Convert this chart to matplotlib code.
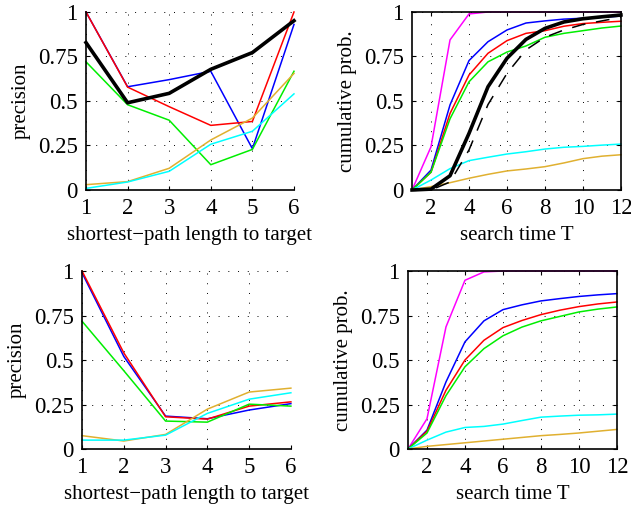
import matplotlib
matplotlib.use('Agg')
import matplotlib.pyplot as plt
import numpy as np

plt.rcParams['font.family'] = ['Liberation Serif', 'DejaVu Serif']
plt.rcParams['font.size'] = 15

# precision vs shortest-path length
hops = [1, 2, 3, 4, 5, 6]
tl_blue = [1.0, 0.58, 0.62, 0.667, 0.232, 0.93]
tl_red = [1.0, 0.578, 0.468, 0.363, 0.385, 1.0]
tl_green = [0.72, 0.479, 0.392, 0.142, 0.228, 0.667]
tl_orange = [0.03, 0.047, 0.122, 0.281, 0.404, 0.655]
tl_cyan = [0.009, 0.045, 0.105, 0.257, 0.33, 0.54]
tl_black = [0.828, 0.49, 0.543, 0.678, 0.772, 0.951]

bl_blue = [0.99, 0.52, 0.185, 0.17, 0.219, 0.255]
bl_red = [1.0, 0.54, 0.181, 0.168, 0.241, 0.265]
bl_green = [0.718, 0.44, 0.157, 0.151, 0.252, 0.241]
bl_orange = [0.075, 0.045, 0.082, 0.224, 0.32, 0.342]
bl_cyan = [0.05, 0.05, 0.078, 0.2, 0.28, 0.316]

# cumulative probability vs search time
T = [1, 2, 3, 4, 5, 6, 7, 8, 9, 10, 11, 12]
tr_magenta = [0, 0.243, 0.843, 0.989, 1.0, 1.0, 1.0, 1.0, 1.0, 1.0, 1.0, 1.0]
tr_blue = [0, 0.112, 0.478, 0.727, 0.833, 0.899, 0.938, 0.95, 0.96, 0.965, 0.97, 0.977]
tr_red = [0, 0.10, 0.43, 0.646, 0.768, 0.839, 0.88, 0.895, 0.92, 0.935, 0.942, 0.948]
tr_green = [0, 0.10, 0.40, 0.608, 0.72, 0.775, 0.809, 0.858, 0.88, 0.895, 0.91, 0.921]
tr_cyan = [0, 0.056, 0.12, 0.165, 0.184, 0.202, 0.215, 0.23, 0.24, 0.245, 0.252, 0.258]
tr_orange = [0, 0.019, 0.041, 0.066, 0.088, 0.107, 0.118, 0.131, 0.152, 0.176, 0.19, 0.198]
tr_black = [0, 0.005, 0.08, 0.318, 0.58, 0.74, 0.846, 0.908, 0.944, 0.962, 0.973, 0.983]
tr_dashed = [0, 0.0, 0.045, 0.225, 0.48, 0.655, 0.787, 0.858, 0.899, 0.93, 0.95, 0.97]

br_magenta = [0, 0.17, 0.686, 0.948, 0.995, 1.0, 1.0, 1.0, 1.0, 1.0, 1.0, 1.0]
br_blue = [0, 0.106, 0.377, 0.602, 0.72, 0.783, 0.81, 0.832, 0.845, 0.857, 0.866, 0.873]
br_red = [0, 0.10, 0.33, 0.50, 0.611, 0.682, 0.722, 0.755, 0.78, 0.80, 0.815, 0.826]
br_green = [0, 0.09, 0.30, 0.462, 0.564, 0.636, 0.685, 0.72, 0.745, 0.77, 0.786, 0.798]
br_cyan = [0, 0.05, 0.095, 0.121, 0.127, 0.14, 0.16, 0.179, 0.185, 0.19, 0.192, 0.196]
br_orange = [0, 0.015, 0.025, 0.035, 0.045, 0.055, 0.065, 0.075, 0.082, 0.09, 0.10, 0.11]

yticks = [0, 0.25, 0.5, 0.75, 1]
ytick_labels = ['0', '0.25', '0.5', '0.75', '1']

C_RED = '#ff0000'
C_BLUE = '#0000ff'
C_GREEN = '#00ee00'
C_CYAN = '#00ffff'
C_ORANGE = '#e0b030'
C_MAG = '#ff00ff'

fig = plt.figure(figsize=(6.31, 5.08), dpi=100)
ax_tl = fig.add_axes([0.1363, 0.626, 0.3296, 0.3504])
ax_tr = fig.add_axes([0.653, 0.626, 0.331, 0.3504])
ax_bl = fig.add_axes([0.130, 0.1161, 0.331, 0.3504])
ax_br = fig.add_axes([0.6466, 0.1161, 0.331, 0.3504])


def style(ax, box):
    ax.set_ylim(0, 1)
    ax.set_yticks(yticks)
    ax.set_yticklabels(ytick_labels)
    ax.grid(True, color='black', linestyle=(0, (1, 9)), linewidth=0.7)
    ax.tick_params(direction='in', length=3, width=0.8, pad=6, top=box, right=box,
                   labelsize=16.5)
    ax.xaxis.labelpad = 5
    ax.yaxis.labelpad = 5
    for s in ['top', 'right']:
        ax.spines[s].set_visible(box)
    for s in ax.spines.values():
        s.set_linewidth(1.2)


lw = 1.1
# top left
ax_tl.plot(hops, tl_blue, color=C_BLUE, lw=lw)
ax_tl.plot(hops, tl_red, color=C_RED, lw=lw)
ax_tl.plot(hops, tl_green, color=C_GREEN, lw=lw)
ax_tl.plot(hops, tl_orange, color=C_ORANGE, lw=lw)
ax_tl.plot(hops, tl_cyan, color=C_CYAN, lw=lw)
ax_tl.plot(hops, tl_black, color='black', lw=2.6)
ax_tl.set_xlim(1, 6)
ax_tl.set_xticks(hops)
ax_tl.set_xlabel('shortest\u2212path length to target')
ax_tl.set_ylabel('precision')
style(ax_tl, False)

# top right
ax_tr.plot(T, tr_magenta, color=C_MAG, lw=lw)
ax_tr.plot(T, tr_blue, color=C_BLUE, lw=lw)
ax_tr.plot(T, tr_red, color=C_RED, lw=lw)
ax_tr.plot(T, tr_green, color=C_GREEN, lw=lw)
ax_tr.plot(T, tr_cyan, color=C_CYAN, lw=lw)
ax_tr.plot(T, tr_orange, color=C_ORANGE, lw=lw)
ax_tr.plot(T, tr_dashed, color='black', lw=1.1, linestyle=(0, (9, 7)))
ax_tr.plot(T, tr_black, color='black', lw=2.6)
ax_tr.set_xlim(1, 12)
ax_tr.set_xticks([2, 4, 6, 8, 10, 12])
ax_tr.set_xlabel('search time T')
ax_tr.set_ylabel('cumulative prob.')
style(ax_tr, True)

# bottom left
ax_bl.plot(hops, bl_blue, color=C_BLUE, lw=lw)
ax_bl.plot(hops, bl_red, color=C_RED, lw=lw)
ax_bl.plot(hops, bl_green, color=C_GREEN, lw=lw)
ax_bl.plot(hops, bl_orange, color=C_ORANGE, lw=lw)
ax_bl.plot(hops, bl_cyan, color=C_CYAN, lw=lw)
ax_bl.set_xlim(1, 6)
ax_bl.set_xticks(hops)
ax_bl.set_xlabel('shortest\u2212path length to target')
ax_bl.set_ylabel('precision')
style(ax_bl, False)

# bottom right
ax_br.plot(T, br_magenta, color=C_MAG, lw=lw)
ax_br.plot(T, br_blue, color=C_BLUE, lw=lw)
ax_br.plot(T, br_red, color=C_RED, lw=lw)
ax_br.plot(T, br_green, color=C_GREEN, lw=lw)
ax_br.plot(T, br_cyan, color=C_CYAN, lw=lw)
ax_br.plot(T, br_orange, color=C_ORANGE, lw=lw)
ax_br.set_xlim(1, 12)
ax_br.set_xticks([2, 4, 6, 8, 10, 12])
ax_br.set_xlabel('search time T')
ax_br.set_ylabel('cumulative prob.')
style(ax_br, True)

for ax in [ax_tl, ax_tr, ax_bl, ax_br]:
    for line in ax.get_lines():
        line.set_clip_on(False)

fig.savefig('out.png', dpi=100)
